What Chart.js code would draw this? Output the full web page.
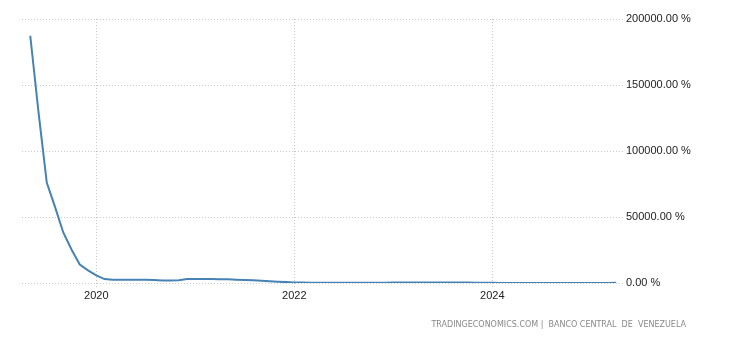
<!DOCTYPE html>
<html>
<head>
<meta charset="utf-8">
<script src="https://cdn.jsdelivr.net/npm/chart.js@4/dist/chart.umd.min.js"></script>
<style>
	body { margin: 0; background: #fff; }
	#wrap { position: relative; width: 730px; height: 340px; }
	#source {
		position: absolute;
		right: 44px;
		top: 320px;
		font: 8px "DejaVu Sans", sans-serif;
		line-height: 10px;
		color: #888;
		white-space: pre;
	}
</style>
</head>
<body>
<div id="wrap">
	<canvas id="chart" width="730" height="340"></canvas>
	<div id="source">TRADINGECONOMICS.COM |  BANCO CENTRAL  DE  VENEZUELA</div>
</div>
<script>
// monthly inflation rate, year on year (%)
const months = [
	"2019-05", "2019-06", "2019-07", "2019-08", "2019-09", "2019-10", "2019-11", "2019-12",
	"2020-01", "2020-02", "2020-03", "2020-04", "2020-05", "2020-06", "2020-07", "2020-08", "2020-09", "2020-10", "2020-11", "2020-12",
	"2021-01", "2021-02", "2021-03", "2021-04", "2021-05", "2021-06", "2021-07", "2021-08", "2021-09", "2021-10", "2021-11", "2021-12",
	"2022-01", "2022-02", "2022-03", "2022-04", "2022-05", "2022-06", "2022-07", "2022-08", "2022-09", "2022-10", "2022-11", "2022-12",
	"2023-01", "2023-02", "2023-03", "2023-04", "2023-05", "2023-06", "2023-07", "2023-08", "2023-09", "2023-10", "2023-11", "2023-12",
	"2024-01", "2024-02", "2024-03", "2024-04", "2024-05", "2024-06", "2024-07", "2024-08", "2024-09", "2024-10", "2024-11", "2024-12",
	"2025-01", "2025-02", "2025-03", "2025-04",
];

const inflation = [
	187300, 129500, 76100, 57700, 38300, 25400, 14000, 9600,
	5800, 3000, 2500, 2500, 2500, 2450, 2400, 2200, 1900, 1850, 2100, 2950,
	3000, 3000, 2950, 2900, 2800, 2500, 2250, 2000, 1700, 1300, 950, 690,
	470, 400, 280, 220, 180, 160, 140, 130, 130, 150, 180, 230,
	440, 440, 440, 430, 430, 420, 400, 400, 320, 320, 280, 190,
	110, 85, 70, 65, 60, 55, 52, 50, 50, 50, 50, 48,
	60, 70, 90, 120,
];

const year_ticks = [2020, 2022, 2024];
const y_ticks = [0, 50000, 100000, 150000, 200000];

const grid_color = "#c8c8c8";
const line_color = "#4682b4";

// month string -> fractional year, so the x axis is a plain linear scale
const to_year = (m) => {
	const [y, mo] = m.split("-").map(Number);
	return y + (mo - 1) / 12;
};

const points = months.map((m, i) => ({ x: to_year(m), y: inflation[i] }));

new Chart(document.getElementById("chart"), {
	type: "line",
	data: {
		datasets: [
			{
				data: points,
				borderColor: line_color,
				borderWidth: 2,
				pointRadius: 0,
				tension: 0,
				fill: false,
			},
		],
	},
	options: {
		responsive: false,
		animation: false,
		layout: { padding: { left: 22, top: 19, right: 0, bottom: 0 } },
		plugins: {
			legend: { display: false },
			tooltip: { enabled: false },
		},
		scales: {
			x: {
				type: "linear",
				min: 2019.25,
				max: 2025.32,
				afterBuildTicks: (scale) => {
					scale.ticks = year_ticks.map((v) => ({ value: v }));
				},
				afterFit: (scale) => {
					scale.height = 57;
				},
				grid: {
					color: grid_color,
					tickColor: grid_color,
					tickLength: 5,
					tickBorderDash: [1, 2],
				},
				border: { display: false, dash: [1, 2] },
				ticks: {
					padding: 1,
					color: "#222",
					font: { family: "'Liberation Sans', Arial, sans-serif", size: 11 },
					callback: (v) => String(v),
				},
			},
			y: {
				position: "right",
				min: 0,
				max: 200000,
				afterBuildTicks: (scale) => {
					scale.ticks = y_ticks.map((v) => ({ value: v }));
				},
				afterFit: (scale) => {
					scale.width = 107;
				},
				grid: {
					color: grid_color,
					drawTicks: false,
				},
				border: { display: false, dash: [1, 2] },
				ticks: {
					padding: 3,
					color: "#222",
					font: { family: "'Liberation Sans', Arial, sans-serif", size: 11 },
					callback: (v) => v.toFixed(2) + " %",
				},
			},
		},
	},
});
</script>
</body>
</html>
